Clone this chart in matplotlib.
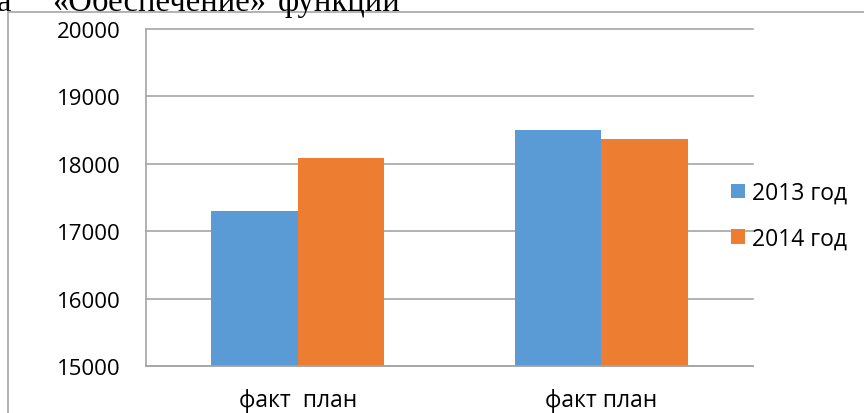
import matplotlib.pyplot as plt
import numpy as np
from matplotlib.patches import Rectangle

# data
groups = ['факт  план', 'факт план']
series_names = ['2013 год', '2014 год']
vals_2013 = [17300, 18500]
vals_2014 = [18080, 18360]
yticks = [15000, 16000, 17000, 18000, 19000, 20000]

blue = '#5B9BD5'
orange = '#ED7D31'
grid_c = '#a6a6a6'

plt.rcParams['font.family'] = ['Open Sans', 'DejaVu Sans']

W, H = 864, 414
fig = plt.figure(figsize=(W / 100, H / 100), dpi=100)

# outer chart frame (runs off the right and bottom of the picture)
fig.add_artist(Rectangle((8 / W, -0.2), 1.5, 1.2 - 13 / H, transform=fig.transFigure,
                         fill=False, edgecolor=grid_c, lw=1.2))

# heading fragment, cut off at the top as in the source
serif = ['Liberation Serif', 'DejaVu Serif']
ty = 1 - 11 / H
fig.text(-3 / W, ty, 'а', family=serif, fontsize=23.5, va='baseline')
fig.text(52 / W, ty, '«Обеспечение»', family=serif, fontsize=23.5, va='baseline')
fig.text(278 / W, ty, 'функции', family=serif, fontsize=23.5, va='baseline')

ax = fig.add_axes([146 / W, 1 - 367 / H, (753 - 146) / W, (367 - 29.5) / H])

x = np.arange(len(groups))
w = 0.2857
b1 = ax.bar(x - w / 2, vals_2013, w, color=blue, label=series_names[0], zorder=2)
b2 = ax.bar(x + w / 2, vals_2014, w, color=orange, label=series_names[1], zorder=2)

ax.set_xlim(-0.5, 1.5)
ax.set_ylim(15000, 20000)
ax.set_yticks(yticks)
ax.set_xticks(x)
ax.set_xticklabels(groups)
ax.yaxis.grid(True, color=grid_c, lw=1.2, zorder=0)
for gl in ax.get_ygridlines():
    gl.set_clip_on(False)
ax.tick_params(axis='y', length=0, pad=18.5, labelsize=16)
ax.tick_params(axis='x', length=0, pad=16, labelsize=16.5)
for s in ['top', 'right']:
    ax.spines[s].set_visible(False)
ax.spines['left'].set_color(grid_c)
ax.spines['bottom'].set_color(grid_c)
ax.spines['left'].set_linewidth(1.2)
ax.spines['bottom'].set_linewidth(1.2)

fig.legend(handles=[b1, b2], labels=series_names, loc='center left',
           bbox_to_anchor=(731 / W, 1 - 217 / H), frameon=False, fontsize=16.5,
           handlelength=0.62, handleheight=0.62, handletextpad=0.3,
           labelspacing=0.95, borderpad=0, borderaxespad=0)

plt.savefig('out.png', dpi=100)
